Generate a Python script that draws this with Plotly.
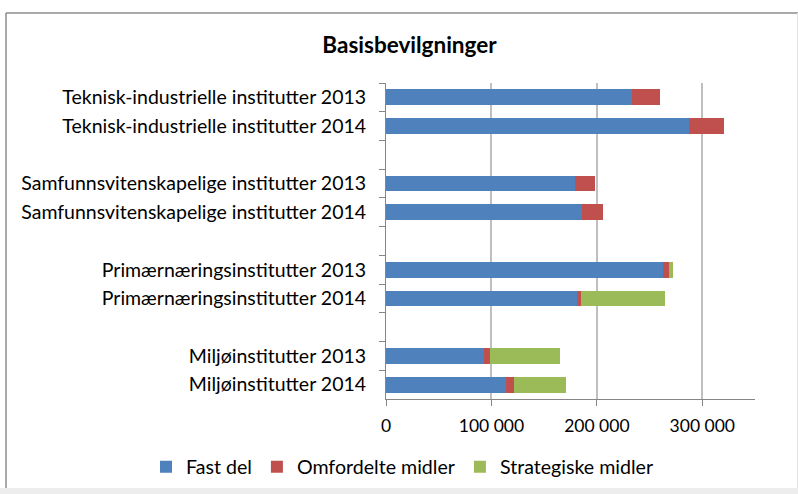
import plotly.graph_objects as go

categories = [
    "Teknisk-industrielle institutter 2013",
    "Teknisk-industrielle institutter 2014",
    " ",
    "Samfunnsvitenskapelige institutter 2013",
    "Samfunnsvitenskapelige institutter 2014",
    "  ",
    "Primærnæringsinstitutter 2013",
    "Primærnæringsinstitutter 2014",
    "   ",
    "Miljøinstitutter 2013",
    "Miljøinstitutter 2014",
]
fast_del = [233500, 287800, None, 179600, 186000, None, 263000, 181000, None, 92800, 113700]
omfordelte = [26700, 32700, None, 19000, 20000, None, 5500, 4400, None, 5700, 7600]
strategiske = [0, 0, None, 0, 0, None, 3500, 79300, None, 66600, 49200]

series_names = ["Fast del", "Omfordelte midler", "Strategiske midler"]
colors = ["#4F81BD", "#C0504D", "#9BBB59"]

x_tickvals = [0, 100000, 200000, 300000]
x_ticktext = ["0", "100 000", "200 000", "300 000"]

fig = go.Figure()
for name, vals, col in zip(series_names, [fast_del, omfordelte, strategiske], colors):
    fig.add_trace(go.Bar(
        y=categories, x=vals, name=name, orientation="h",
        marker=dict(color=col, line=dict(width=0)), width=0.55,
    ))

FW, FH = 798, 494
L, R, T, B = 386, 798 - 755, 83, 494 - 399
W, H = FW - L - R, FH - T - B

def px(x):
    return (x - L) / W

def py(y):
    return (FH - B - y) / H

fig.update_layout(
    width=FW, height=FH,
    margin=dict(l=L, r=R, t=T, b=B, autoexpand=False),
    barmode="stack",
    paper_bgcolor="white", plot_bgcolor="white",
    font=dict(family="Lato, Carlito, sans-serif", size=19, color="#000000"),
    title=dict(text="<b>Basisbevilgninger</b>", x=409.5 / FW, xanchor="center",
               y=1 - 45 / FH, yanchor="middle", yref="container",
               font=dict(size=22.5, family="Lato, sans-serif", color="#000")),
    showlegend=True,
    legend=dict(orientation="h", xref="paper", yref="paper",
                x=px(146), xanchor="left", y=py(467), yanchor="middle",
                traceorder="normal", font=dict(size=19.6), itemwidth=30,
                bgcolor="rgba(0,0,0,0)"),
    xaxis=dict(range=[0, 350000], tickvals=x_tickvals, ticktext=x_ticktext,
               showgrid=True, gridcolor="#BFBFBF", gridwidth=1.5,
               showline=True, linecolor="#868686", linewidth=1,
               ticks="outside", ticklen=6, tickcolor="#868686",
               tickfont=dict(size=17.5),
               ticklabelstandoff=5, zeroline=False, fixedrange=True),
    yaxis=dict(autorange="reversed", type="category",
               showgrid=False, showline=True, linecolor="#868686", linewidth=1,
               ticks="outside", ticklen=6, tickcolor="#868686", tickson="boundaries",
               tickfont=dict(size=19.5),
               ticklabelstandoff=15, fixedrange=True),
    shapes=[
        dict(type="line", xref="paper", yref="paper",
             x0=px(6), x1=px(800), y0=py(13), y1=py(13),
             line=dict(color="#8C8C8C", width=1.5)),
        dict(type="line", xref="paper", yref="paper",
             x0=px(6), x1=px(6), y0=py(13), y1=py(488),
             line=dict(color="#8C8C8C", width=1.5)),
        dict(type="line", xref="paper", yref="paper",
             x0=px(797.5), x1=px(797.5), y0=py(13), y1=py(488),
             line=dict(color="#E4E4E4", width=1)),
        dict(type="rect", xref="paper", yref="paper",
             x0=px(0), x1=px(800), y0=py(496), y1=py(488),
             line=dict(width=0), fillcolor="#EDEDED", layer="below"),
    ],
)

fig.write_html(
    "out.html",
    config={"displayModeBar": False},
    post_script="document.body.style.margin='0';document.body.style.overflow='hidden';",
)
